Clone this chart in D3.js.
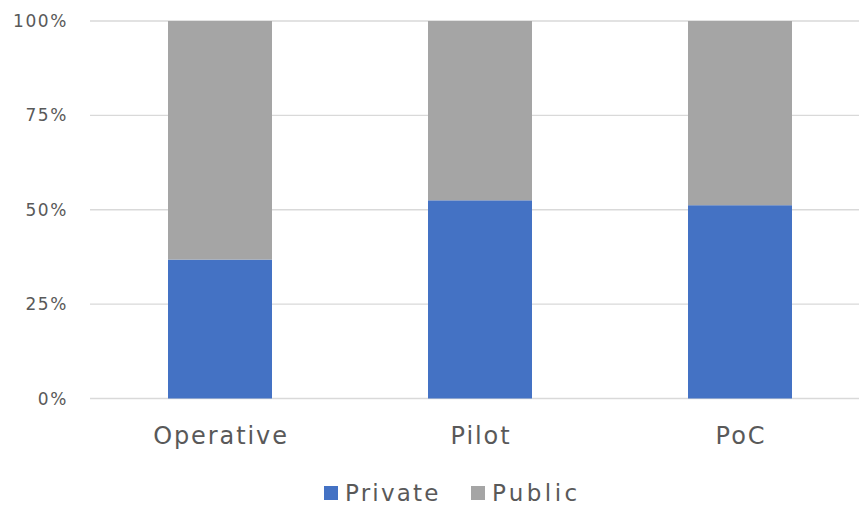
<!DOCTYPE html>
<html><head><meta charset="utf-8">
<script src="https://cdn.jsdelivr.net/npm/d3@7"></script>
<style>body{margin:0;background:#fff}svg{display:block;font-family:"DejaVu Sans",sans-serif}</style>
</head><body><svg id="c" width="859" height="506"></svg>
<script>
const categories = ["Operative","Pilot","PoC"];
const privateVals = [0.368, 0.525, 0.512];
const publicVals = [0.632, 0.475, 0.488];
const seriesNames = ["Private","Public"];
const seriesColors = ["#4472C4","#A5A5A5"];
const yTicks = [0,0.25,0.5,0.75,1];

const svg = d3.select("#c");
const x = d3.scaleBand().domain(categories).range([90,870]).paddingInner(0.6).paddingOuter(0.3);
const y = d3.scaleLinear().domain([0,1]).range([398.5,21]);

const grid = svg.append("g");
grid.selectAll("line").data(yTicks).join("line")
  .attr("x1",90).attr("x2",859).attr("y1",d=>y(d)).attr("y2",d=>y(d))
  .attr("stroke","#D9D9D9").attr("stroke-width",1.3);
grid.selectAll("text").data(yTicks).join("text")
  .attr("x",68).attr("y",d=>y(d)+6).attr("text-anchor","end")
  .attr("font-size",17).attr("letter-spacing",1.6).attr("fill","#595959").text(d=>d3.format(".0%")(d));

const rows = categories.map((c,i)=>({cat:c, Private:privateVals[i], Public:publicVals[i]}));
const stack = d3.stack().keys(seriesNames)(rows);
svg.append("g").selectAll("g").data(stack).join("g")
  .attr("fill",(d,i)=>seriesColors[i])
  .selectAll("rect").data(d=>d).join("rect")
  .attr("x",d=>x(d.data.cat)).attr("width",x.bandwidth())
  .attr("y",d=>y(d[1])).attr("height",d=>y(d[0])-y(d[1]));

svg.append("g").selectAll("text").data(categories).join("text")
  .attr("x",d=>x(d)+x.bandwidth()/2+1).attr("y",444)
  .attr("text-anchor","middle").attr("font-size",24).attr("letter-spacing",1.9).attr("fill","#595959").text(d=>d);

const leg = svg.append("g");
const legX = [324, 471];
const legLS = [2.2, 3.4];
seriesNames.forEach((n,i)=>{
  leg.append("rect").attr("x",legX[i]).attr("y",486).attr("width",14).attr("height",14).attr("fill",seriesColors[i]);
  leg.append("text").attr("x",legX[i]+21).attr("y",500.5)
    .attr("font-size",23).attr("letter-spacing",legLS[i]).attr("fill","#595959").text(n);
});
</script></body></html>
